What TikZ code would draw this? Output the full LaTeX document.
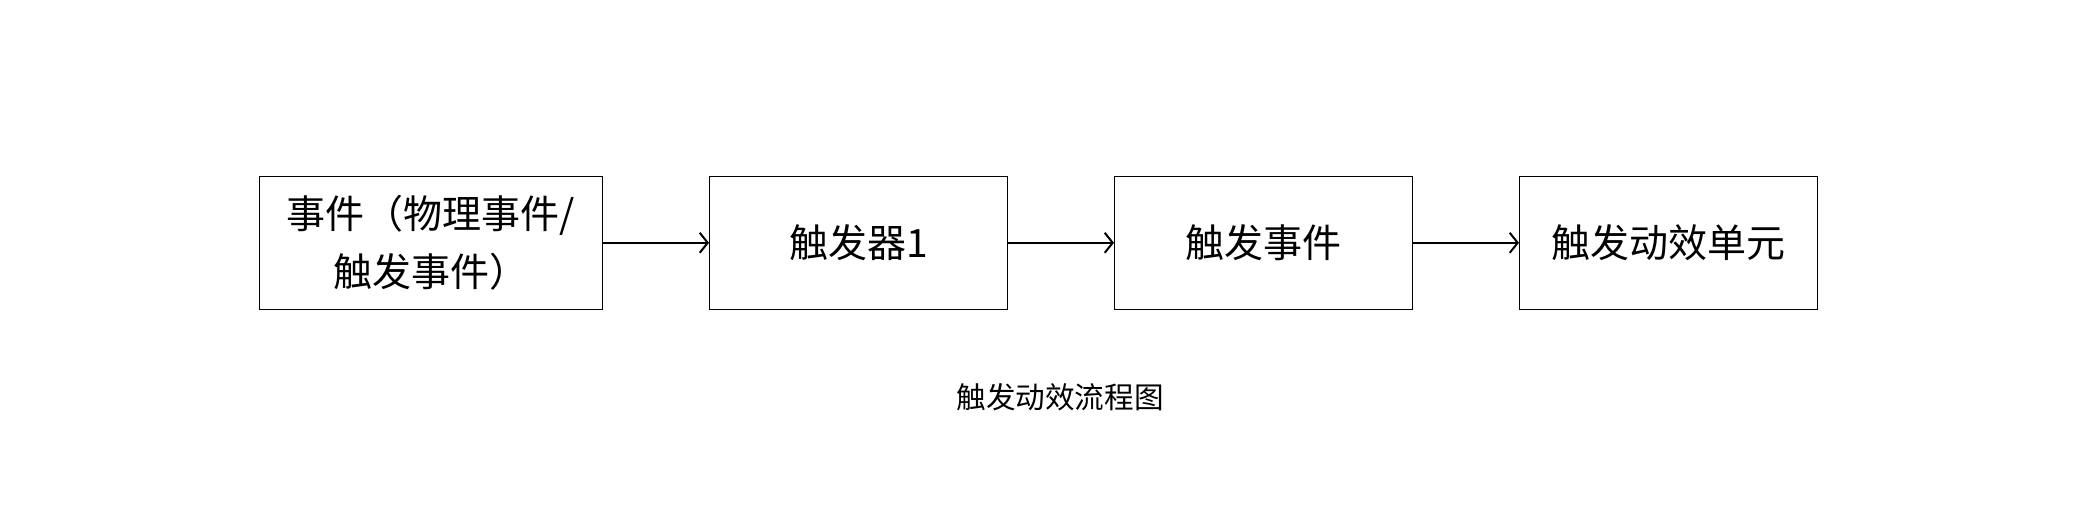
\documentclass[tikz,border=0pt]{standalone}
\usepackage{fontspec}
\setmainfont{Noto Sans CJK SC}
\usetikzlibrary{positioning,arrows.meta}

\begin{document}
\begin{tikzpicture}[
        box/.style={rectangle, draw, line width=0.5pt, minimum width=149pt, minimum height=66.5pt,
          inner sep=0pt, align=center, font=\fontsize{19.5}{29}\selectfont},
        flow/.style={-{Straight Barb[length=4pt,width=10pt]}, line width=1pt}
      ]
      \useasboundingbox (0,0) rectangle (1038.5pt,-252pt);
      \node[box, minimum width=171.5pt] (event) at (215.5pt,-121.4pt) {事件（物理事件/\\触发事件）};
      \node[box, right=53pt of event] (trigger) {触发器1};
      \node[box, right=53pt of trigger] (tevent) {触发事件};
      \node[box, right=53pt of tevent] (unit) {触发动效单元};
      \draw[flow] (event) -- (trigger);
      \draw[flow] (trigger) -- (tevent);
      \draw[flow] (tevent) -- (unit);
      % caption
      \node[font=\fontsize{14.8}{18}\selectfont] (caption) at (530pt,-198.5pt) {触发动效流程图};
      \end{tikzpicture}
\end{document}
